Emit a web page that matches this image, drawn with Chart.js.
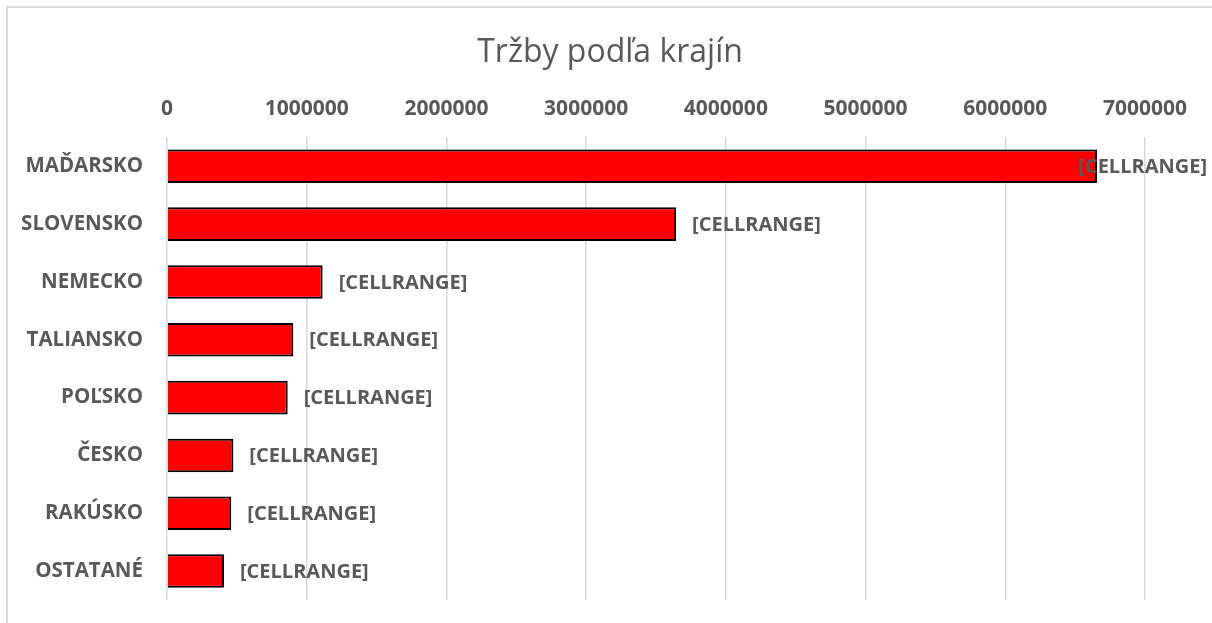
<!DOCTYPE html>
<html lang="sk">
<head>
<meta charset="UTF-8">
<title>Tržby podľa krajín</title>
<script src="https://cdn.jsdelivr.net/npm/chart.js@4"></script>
<style>
    html, body { margin: 0; padding: 0; background: #ffffff; }
    #wrap { position: relative; width: 1212px; height: 623px; overflow: hidden; }
    #frame {
        position: absolute; left: 6px; top: 6px; width: 1300px; height: 700px;
        border-left: 2px solid #d9d9d9; border-top: 2px solid #d9d9d9;
        pointer-events: none;
    }
</style>
</head>
<body>
<div id="wrap">
    <canvas id="salesChart" width="1212" height="623"></canvas>
    <div id="frame"></div>
</div>
<script>
// 📌 dáta grafu
let countries = ["MAĎARSKO", "SLOVENSKO", "NEMECKO", "TALIANSKO", "POĽSKO", "ČESKO", "RAKÚSKO", "OSTATANÉ"];
let sales = [6657000, 3644000, 1114000, 904000, 864000, 475000, 460000, 408000];
let barLabels = ["[CELLRANGE]", "[CELLRANGE]", "[CELLRANGE]", "[CELLRANGE]", "[CELLRANGE]", "[CELLRANGE]", "[CELLRANGE]", "[CELLRANGE]"];
let axisMin = 0;
let axisMax = 7000000;
let axisStep = 1000000;

let textGray = "#595959";
let fontName = "'Open Sans', 'Noto Sans', sans-serif";

// 📌 popisky za stĺpcami (posunuté doľava, ak by presahovali okraj)
let barLabelPlugin = {
    id: "barLabels",
    afterDatasetsDraw(chart) {
        let ctx = chart.ctx;
        let meta = chart.getDatasetMeta(0);
        ctx.save();
        ctx.font = "bold 20px " + fontName;
        ctx.fillStyle = textGray;
        ctx.textBaseline = "middle";
        ctx.textAlign = "left";
        meta.data.forEach((bar, i) => {
            let text = barLabels[i];
            let w = ctx.measureText(text).width;
            let x = bar.x + 16;
            if (x + w > chart.width - 5) {
                x = chart.width - 5 - w;
            }
            ctx.fillText(text, x, bar.y + 1);
        });
        ctx.restore();
    }
};

document.addEventListener("DOMContentLoaded", function () {
    let ctx = document.getElementById("salesChart").getContext("2d");

    new Chart(ctx, {
        type: "bar",
        data: {
            labels: countries,
            datasets: [{
                data: sales,
                backgroundColor: "#ff0000",
                borderColor: "#000000",
                borderWidth: 2,
                barPercentage: 0.58,
                categoryPercentage: 1
            }]
        },
        options: {
            indexAxis: "y",
            responsive: false,
            animation: false,
            devicePixelRatio: 1,
            layout: {
                padding: { left: 8, right: 0, top: 0, bottom: 23 }
            },
            plugins: {
                legend: { display: false },
                tooltip: { enabled: false },
                title: {
                    display: true,
                    text: "Tržby podľa krajín",
                    color: textGray,
                    font: { family: fontName, size: 32, weight: "normal" },
                    padding: { top: 34, bottom: 8 }
                }
            },
            scales: {
                x: {
                    position: "top",
                    min: axisMin,
                    max: axisMax,
                    afterFit: (scale) => {
                        scale.height = 57;
                        scale.paddingLeft = 0;
                        scale.paddingRight = 67;
                    },
                    ticks: {
                        stepSize: axisStep,
                        padding: 16,
                        color: textGray,
                        font: { family: fontName, size: 21, weight: "bold" },
                        callback: (value) => String(value)
                    },
                    grid: {
                        color: "#d9d9d9",
                        lineWidth: 1.5,
                        drawTicks: false
                    },
                    border: { display: false }
                },
                y: {
                    afterFit: (scale) => {
                        scale.width = 159;
                        scale.paddingTop = 0;
                        scale.paddingBottom = 0;
                    },
                    ticks: {
                        padding: 24,
                        color: textGray,
                        font: { family: fontName, size: 20.5, weight: "bold" }
                    },
                    grid: { display: false, drawTicks: false },
                    border: { display: false }
                }
            }
        },
        plugins: [barLabelPlugin]
    });
});
</script>
</body>
</html>
